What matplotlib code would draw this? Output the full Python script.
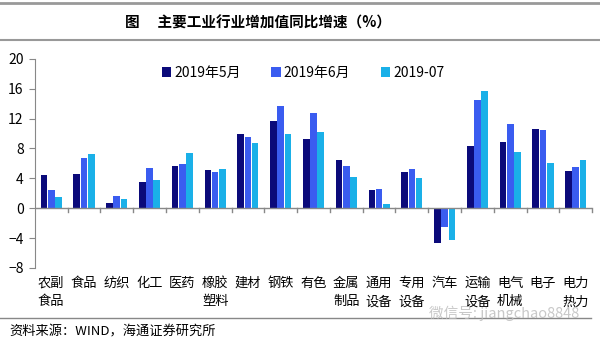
import numpy as np
import matplotlib.pyplot as plt

plt.rcParams['font.family'] = ['Noto Sans CJK SC', 'DejaVu Sans']

categories = ["农副\n食品", "食品", "纺织", "化工", "医药", "橡胶\n塑料", "建材", "钢铁", "有色",
              "金属\n制品", "通用\n设备", "专用\n设备", "汽车", "运输\n设备", "电气\n机械", "电子", "电力\n热力"]
may_2019 = [4.4, 4.6, 0.7, 3.5, 5.6, 5.1, 9.9, 11.7, 9.3, 6.4, 2.4, 4.8, -4.6, 8.3, 8.8, 10.6, 5.0]
jun_2019 = [2.5, 6.7, 1.7, 5.4, 5.9, 4.8, 9.5, 13.7, 12.8, 5.6, 2.6, 5.2, -2.5, 14.5, 11.3, 10.5, 5.5]
jul_2019 = [1.5, 7.3, 1.2, 3.8, 7.4, 5.2, 8.7, 10.0, 10.2, 4.2, 0.6, 4.0, -4.3, 15.7, 7.5, 6.0, 6.4]
series_names = ["2019年5月", "2019年6月", "2019-07"]
colors = ["#0b0a7a", "#3a5cf0", "#1ab0e8"]
y_ticks = [-8, -4, 0, 4, 8, 12, 16, 20]

fig = plt.figure(figsize=(6, 3.44), dpi=100)
ax = fig.add_axes([0.058, 0.221, 0.929, 0.608])

x = np.arange(len(categories))
w = 0.205
for i, (vals, name, c) in enumerate(zip([may_2019, jun_2019, jul_2019], series_names, colors)):
    ax.bar(x + (i - 1) * (w + 0.015), vals, width=w, color=c, label=name)

ax.set_xlim(-0.5, len(categories) - 0.5)
ax.set_ylim(-8, 20)
ax.set_yticks(y_ticks)
ax.tick_params(axis='y', labelsize=10, length=4, color='#888888', pad=4)

for s in ['top', 'right', 'bottom']:
    ax.spines[s].set_visible(False)
ax.spines['left'].set_color('#888888')
ax.axhline(0, color='#888888', lw=1)

# boundary ticks along the zero line
ax.set_xticks([])
for b in np.arange(0.5, len(categories) - 0.4, 1.0):
    ax.plot([b, b], [0, -0.55], color='#888888', lw=1, clip_on=False)

for xi, lab in zip(x, categories):
    ax.text(xi, -9.2, lab, ha='center', va='top', fontsize=9.5, linespacing=1.55)

ax.legend(loc='upper left', bbox_to_anchor=(0.205, 1.025), ncol=3, frameon=False,
          fontsize=10, handlelength=0.7, handleheight=0.7, handletextpad=0.2,
          columnspacing=2.2)

fig.lines.append(plt.Line2D([0.0, 1.0], [0.99, 0.99], color='#999999', lw=2, transform=fig.transFigure))
fig.lines.append(plt.Line2D([0.0, 1.0], [0.885, 0.885], color='#999999', lw=1.5, transform=fig.transFigure))
fig.text(0.208, 0.935, "图　 主要工业行业增加值同比增速（%）", fontsize=10.5, fontweight='bold', va='center')

fig.lines.append(plt.Line2D([0.0, 0.985], [0.075, 0.075], color='#888888', lw=1, transform=fig.transFigure))
fig.text(0.715, 0.088, "微信号: jiangchao8848", fontsize=10.5, color='#bbbbbb', va='center', alpha=0.8)
fig.text(0.015, 0.035, "资料来源：WIND，海通证券研究所", fontsize=9.5, va='center')

fig.savefig("out.png", dpi=100)
